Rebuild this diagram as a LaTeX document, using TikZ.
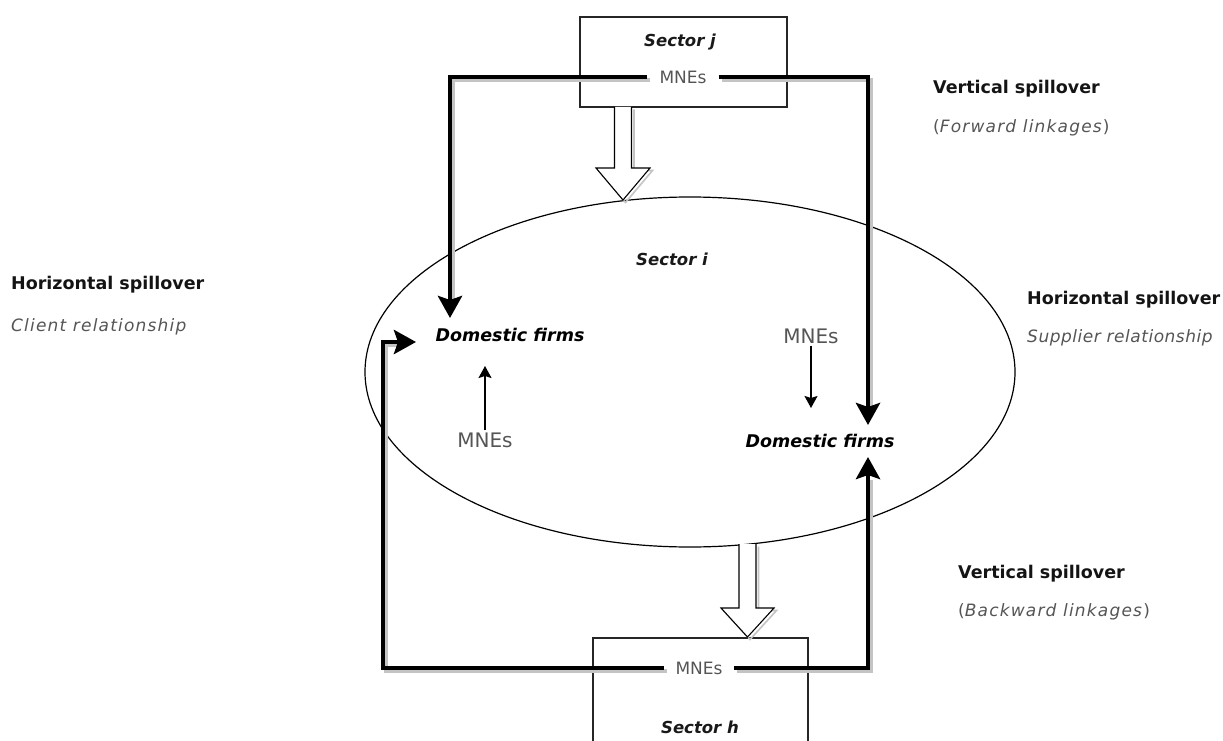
\documentclass[tikz,border=0pt]{standalone}
\usepackage{fontspec}
\setmainfont{DejaVu Sans}
\newfontfamily\lsfont[LetterSpace=7]{DejaVu Sans}
\newfontfamily\lsfontb[LetterSpace=3]{DejaVu Sans}
\usetikzlibrary{arrows.meta,shapes.geometric}
\definecolor{shad}{HTML}{C4C4C4}
\definecolor{txtgray}{HTML}{555555}
\tikzset{
  bigline/.style={line width=4.5pt, black, -{Stealth[length=22pt,width=24pt,inset=4pt]}},
  shadline/.style={line width=4.5pt, shad, shorten >=20pt, transform canvas={xshift=3pt,yshift=-3pt}},
  thinarrow/.style={line width=1.4pt, black, -{Stealth[length=12pt,width=13pt,inset=2pt]}},
  lab/.style={font=\fontsize{17.5}{20}\selectfont\bfseries, text=black!92, anchor=west, inner sep=0pt},
  sub/.style={font=\lsfont\fontsize{17}{20}\selectfont, text=txtgray, anchor=west, inner sep=0pt},
  subb/.style={font=\lsfontb\fontsize{17}{20}\selectfont, text=txtgray, anchor=west, inner sep=0pt},
  firm/.style={font=\fontsize{17.5}{20}\selectfont\bfseries\itshape, text=black, inner sep=0pt},
  sect/.style={font=\fontsize{16.5}{18}\selectfont\bfseries\itshape, text=black!90, inner sep=0pt},
  mne/.style={font=\fontsize{20}{22}\selectfont, text=txtgray, inner sep=2pt},
  mnebox/.style={font=\fontsize{17}{20}\selectfont, text=txtgray, inner ysep=2pt},
  hollow/.style={draw=black, line width=1.1pt, fill=white, line join=miter},
  hollowsh/.style={draw=shad, line width=1.6pt, transform canvas={xshift=2.5pt,yshift=-2.5pt}},
}
\begin{document}
\begin{tikzpicture}[x=1pt,y=-1pt]
\useasboundingbox (0,0) rectangle (1223,741);
% ellipse sector i
\node[draw, ellipse, line width=1.2pt, minimum width=650pt, minimum height=350pt, inner sep=0pt] (seci) at (690,372) {};
\node[sect] (secilab) at (672,259) {Sector i};
% sector j box
\node[draw=black!85, line width=1.3pt, minimum width=207pt, minimum height=90pt, inner sep=0pt] (boxj) at (683.5,62) {};
\node[sect] (sjlab) at (680,42) {Sector j};
\node[mnebox, inner xsep=12pt] (mnej) at (683,77) {MNEs};
% sector h box (open at bottom)
\coordinate (bhl) at (593,741);
\coordinate (bhr) at (808,741);
\draw[draw=black!85, line width=1.3pt] (bhl) -- (593,638) coordinate (bhtl) -- (808,638) coordinate (bhtr) -- (bhr);
\node[sect] (shlab) at (700,727) {Sector h};
\node[mnebox, inner xsep=11.5pt] (mneh) at (699,668) {MNEs};
% inner nodes
\node[firm] (dfl) at (510,335) {Domestic firms};
\node[firm] (dfr) at (820,441) {Domestic firms};
\node[mne] (mnel) at (485,440) {MNEs};
\node[mne] (mner) at (811,336) {MNEs};
\coordinate (tml) at (485,366);
\coordinate (tmr) at (811,408);
\draw[thinarrow] (mnel.north) -- (tml);
\draw[thinarrow] (mner.south) -- (tmr);
% hollow arrows
\begin{scope}[shift={(623,107)}]
  \draw[hollowsh] (-8.5,0) -- (-8.5,61) -- (-27,61) -- (0,93) -- (27,61) -- (8.5,61) -- (8.5,0);
  \filldraw[hollow] (-8.5,0) -- (-8.5,61) -- (-27,61) -- (0,93) -- (27,61) -- (8.5,61) -- (8.5,0);
\end{scope}
\begin{scope}[shift={(747.5,544)}]
  \draw[hollowsh] (-8.5,0) -- (-8.5,64) -- (-26.5,64) -- (0,93) -- (26.5,64) -- (8.5,64) -- (8.5,0);
  \filldraw[hollow] (-8.5,0) -- (-8.5,64) -- (-26.5,64) -- (0,93) -- (26.5,64) -- (8.5,64) -- (8.5,0);
\end{scope}
% corner / tip coordinates
\coordinate (cjl) at (450,77);
\coordinate (tdl) at (450,318);
\coordinate (cjr) at (868,77);
\coordinate (tdr) at (868,425);
\coordinate (chl) at (383,668);
\coordinate (chl2) at (383,342);
\coordinate (tl) at (416,342);
\coordinate (chr) at (868,668);
\coordinate (tur) at (868,457);
% shadows
\draw[shadline] (mnej.west) -- (cjl) -- (tdl);
\draw[shadline] (mnej.east) -- (cjr) -- (tdr);
\draw[shadline] (mneh.west) -- (chl) -- (chl2) -- (tl);
\draw[shadline] (mneh.east) -- (chr) -- (tur);
% thick connectors
\draw[bigline] (mnej.west) -- (cjl) -- (tdl);
\draw[bigline] (mnej.east) -- (cjr) -- (tdr);
\draw[bigline] (mneh.west) -- (chl) -- (chl2) -- (tl);
\draw[bigline] (mneh.east) -- (chr) -- (tur);
% side labels
\node[lab] (hl1) at (11,285) {Horizontal spillover};
\node[sub] (hl2) at (11,327) {\itshape Client relationship};
\node[lab] (hr1) at (1027,300) {Horizontal spillover};
\node[subb] (hr2) at (1027,338) {\itshape Supplier relationship};
\node[lab] (vt1) at (933,89) {Vertical spillover};
\node[sub] (vt2) at (933,128) {(\textit{Forward linkages})};
\node[lab] (vb1) at (958,574) {Vertical spillover};
\node[sub] (vb2) at (958,612) {(\textit{Backward linkages})};
\end{tikzpicture}
\end{document}
